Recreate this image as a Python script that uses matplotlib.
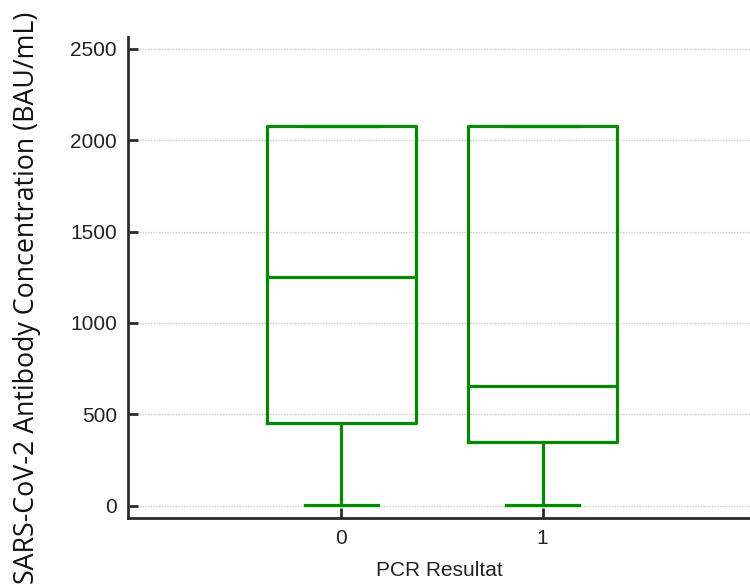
import matplotlib
matplotlib.use("Agg")
import matplotlib.pyplot as plt

# box plot summary per PCR result group
groups = ["0", "1"]
q1 = [455, 352]
medians = [1252, 657]
q3 = [2078, 2078]
whisker_low = [4, 4]
whisker_high = [2078, 2078]

GREEN = "#008a00"
AXIS = "#2b2b2b"

fig = plt.figure(figsize=(7.5, 5.88), dpi=100)
ax = fig.add_axes([0.1707, 0.119, 0.8293, 0.818])

stats = []
for i, g in enumerate(groups):
    stats.append({"label": g, "q1": q1[i], "med": medians[i], "q3": q3[i],
                  "whislo": whisker_low[i], "whishi": whisker_high[i], "fliers": []})

line = dict(color=GREEN, linewidth=2.3)
ax.bxp(stats, positions=range(len(groups)), widths=0.74, showfliers=False,
       boxprops=line, medianprops=line, whiskerprops=line, capprops=line,
       capwidths=0.36)

ax.set_xlim(-1.06, 2.03)
ax.set_ylim(-66, 2563)
ax.set_yticks([0, 500, 1000, 1500, 2000, 2500])
ax.set_xticks(range(len(groups)), groups)

ax.yaxis.grid(True, linestyle=(0, (1, 1)), color="#c8c8c8", linewidth=1.0)
ax.set_axisbelow(True)

for side in ("top", "right"):
    ax.spines[side].set_visible(False)
for side in ("left", "bottom"):
    ax.spines[side].set_color(AXIS)
    ax.spines[side].set_linewidth(2.0)

ax.tick_params(direction="in", length=7, width=2.0, color=AXIS,
               labelsize=15, labelcolor="#222222", pad=8)
for lab in ax.get_xticklabels() + ax.get_yticklabels():
    lab.set_family("Liberation Sans")

ax.set_xlabel("PCR Resultat", family="Liberation Sans", fontsize=15,
              color="#222222", labelpad=9)
ax.set_ylabel("SARS-CoV-2 Antibody Concentration (BAU/mL)", family="Open Sans",
              fontsize=19.3, color="#111111")
ax.yaxis.set_label_coords(-0.14, 0.457)

fig.savefig("out.png", dpi=100)
